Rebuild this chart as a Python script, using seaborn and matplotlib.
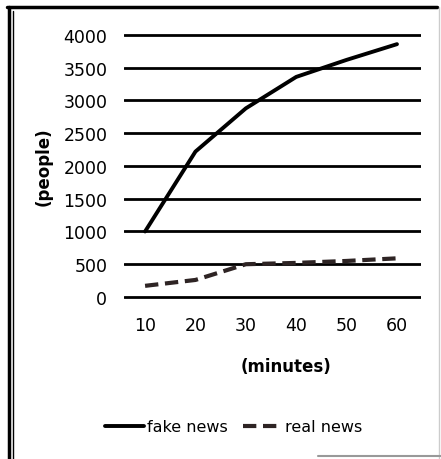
import pandas as pd
import matplotlib.pyplot as plt
import seaborn as sns
from matplotlib.lines import Line2D

# data
minutes = [10, 20, 30, 40, 50, 60]
fake_news = [1000, 2220, 2880, 3360, 3620, 3860]
real_news = [170, 260, 500, 520, 550, 590]
y_ticks = [0, 500, 1000, 1500, 2000, 2500, 3000, 3500, 4000]

df = pd.DataFrame({"minutes": minutes, "fake news": fake_news, "real news": real_news})

sns.set_style("white")
plt.rcParams["font.family"] = ["DejaVu Sans"]
plt.rcParams["text.color"] = "black"
plt.rcParams["axes.labelcolor"] = "black"
plt.rcParams["xtick.color"] = "black"
plt.rcParams["ytick.color"] = "black"

fig = plt.figure(figsize=(4.41, 4.60), dpi=100)
ax = fig.add_axes([0.281, 0.338, 0.674, 0.598])

# thick black horizontal rules
for v in y_ticks:
    ax.axhline(v, color="black", lw=2, zorder=1)

sns.lineplot(data=df, x="minutes", y="fake news", ax=ax, color="black",
             lw=2.8, label="fake news", zorder=3)
sns.lineplot(data=df, x="minutes", y="real news", ax=ax, color="#2e2424",
             lw=3, linestyle=(0, (3.2, 1.6)), label="real news", zorder=3)

ax.set_xlim(5.8, 64.8)
ax.set_ylim(-100, 4100)
ax.set_yticks(y_ticks)
ax.set_xticks(minutes)
ax.set_xticklabels([str(m) for m in minutes], fontsize=12.5)
ax.set_yticklabels([str(v) for v in y_ticks], fontsize=12.5)
ax.tick_params(axis="both", length=0)
ax.tick_params(axis="x", pad=9)
ax.tick_params(axis="y", pad=12)
for s in ax.spines.values():
    s.set_visible(False)

ax.set_ylabel("(people)", fontsize=12, fontweight="bold")
ax.yaxis.set_label_coords(-0.24, 0.5)
ax.set_xlabel("(minutes)", fontsize=12, fontweight="bold")
ax.xaxis.set_label_coords(0.545, -0.195)

ax.get_legend().remove()
handles, labels = ax.get_legend_handles_labels()
fig.legend(handles, labels, loc="center", bbox_to_anchor=(0.53, 0.07), ncol=2,
           frameon=False, fontsize=11.5, handlelength=2.4, handletextpad=0.2,
           columnspacing=1.0)

# scanned page border: dark top and left, faint right and bottom
fig.lines.append(Line2D([0.016, 0.99], [0.983, 0.983], transform=fig.transFigure,
                        color="black", lw=2.5))
fig.lines.append(Line2D([0.02, 0.02], [0.0, 0.983], transform=fig.transFigure,
                        color="black", lw=2.5))
fig.lines.append(Line2D([0.03, 0.03], [0.0, 0.975], transform=fig.transFigure,
                        color="black", lw=1))
fig.lines.append(Line2D([0.995, 0.995], [0.0, 0.983], transform=fig.transFigure,
                        color="#cccccc", lw=1))
fig.lines.append(Line2D([0.72, 1.0], [0.006, 0.006], transform=fig.transFigure,
                        color="#999999", lw=1.5))

fig.savefig("out.png", dpi=100)
